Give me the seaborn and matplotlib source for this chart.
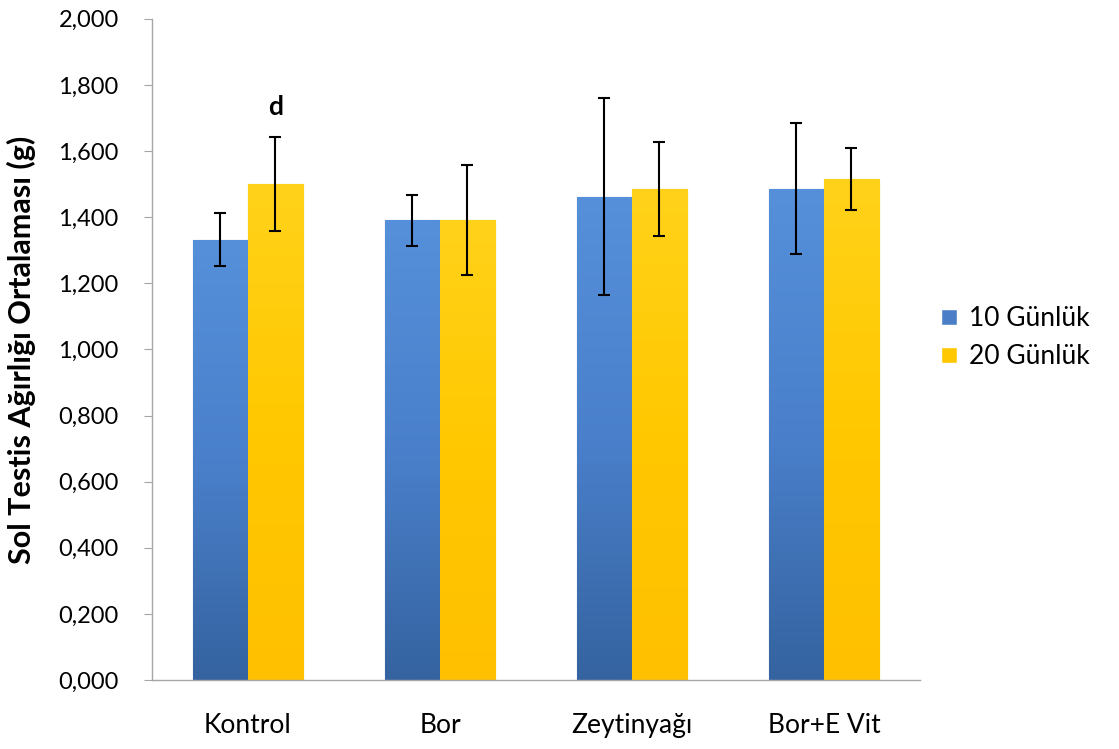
import numpy as np
import pandas as pd
import matplotlib
matplotlib.use("Agg")
import matplotlib.pyplot as plt
from matplotlib.colors import LinearSegmentedColormap
from matplotlib.ticker import FuncFormatter
import seaborn as sns

groups = ["Kontrol", "Bor", "Zeytinyağı", "Bor+E Vit"]
series = ["10 Günlük", "20 Günlük"]
means_10 = [1.331, 1.390, 1.462, 1.486]
err_10 = [0.080, 0.077, 0.297, 0.198]
means_20 = [1.500, 1.392, 1.486, 1.516]
err_20 = [0.141, 0.166, 0.142, 0.094]
letters_20 = ["d", "", "", ""]

df = pd.DataFrame({
    "grup": groups * 2,
    "seri": [series[0]] * 4 + [series[1]] * 4,
    "deger": means_10 + means_20,
})

sns.set_style("white")
plt.rcParams["font.family"] = ["Lato", "DejaVu Sans"]
plt.rcParams["text.color"] = "black"
plt.rcParams["xtick.color"] = "black"
plt.rcParams["ytick.color"] = "black"
plt.rcParams["axes.labelcolor"] = "black"

colors = {series[0]: "#4A7FC8", series[1]: "#FFC800"}
grads = [LinearSegmentedColormap.from_list("b", ["#3563A0", "#4A80CB", "#5690DA"]),
         LinearSegmentedColormap.from_list("y", ["#FFC000", "#FFC800", "#FFD21A"])]
edges = ["#3A679F", "#D9A300"]

fig = plt.figure(figsize=(11.19, 7.49), dpi=100)
ax = fig.add_axes([0.1358, 0.092, 0.6863, 0.883])

sns.barplot(data=df, x="grup", y="deger", hue="seri", palette=colors,
            width=0.573, errorbar=None, saturation=1, ax=ax)

grad = np.linspace(0, 1, 256).reshape(-1, 1)
for i, (cont, errs) in enumerate(zip(ax.containers, [err_10, err_20])):
    xs, hs = [], []
    for p in cont:
        x0, y0 = p.get_x(), p.get_y()
        w, h = p.get_width(), p.get_height()
        p.set_edgecolor(edges[i])
        p.set_linewidth(0.8)
        im = ax.imshow(grad, extent=[x0, x0 + w, y0, y0 + h], origin="lower",
                       aspect="auto", cmap=grads[i], zorder=p.get_zorder() + 0.1)
        im.set_clip_path(p)
        xs.append(x0 + w / 2)
        hs.append(h)
    ax.errorbar(xs, hs, yerr=errs, fmt="none", ecolor="black", elinewidth=1.5,
                capsize=4, capthick=1.5, zorder=5)
    if i == 1:
        for x, h, e, t in zip(xs, hs, errs, letters_20):
            if t:
                ax.text(x, h + e + 0.068, t, ha="center", va="baseline",
                        fontsize=19, fontweight="bold")

ax.set_xlim(-0.5, 3.5)
ax.set_ylim(0, 2.0)
ax.set_yticks(np.arange(0, 2.001, 0.2))
ax.yaxis.set_major_formatter(FuncFormatter(lambda v, _: f"{v:.3f}".replace(".", ",")))

for s in ["top", "right"]:
    ax.spines[s].set_visible(False)
for s in ["left", "bottom"]:
    ax.spines[s].set_color("#A6A6A6")
    ax.spines[s].set_linewidth(1.0)

ax.tick_params(axis="y", left=True, length=6, color="#A6A6A6", labelcolor="black",
               pad=18, labelsize=17)
ax.tick_params(axis="x", bottom=False, length=0, labelcolor="black", pad=24, labelsize=19)

ax.set_xlabel("")
ax.set_ylabel("Sol Testis Ağırlığı Ortalaması (g)", fontsize=22, fontweight="bold")
ax.yaxis.set_label_coords(-0.151, 0.5)

handles, labels = ax.get_legend_handles_labels()
ax.legend(handles, labels, loc="center left", bbox_to_anchor=(0.82, 0.549),
          bbox_transform=fig.transFigure, frameon=False, fontsize=19,
          handlelength=0.6, handleheight=0.6, handletextpad=0.45, labelspacing=0.5)

fig.savefig("out.png", dpi=100)
